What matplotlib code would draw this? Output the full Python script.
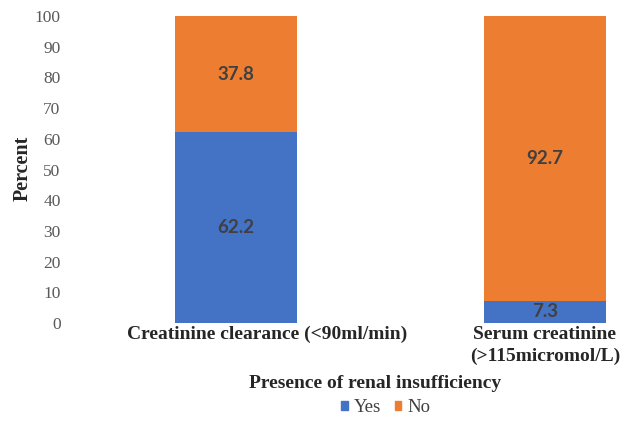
import matplotlib
matplotlib.use("Agg")
import matplotlib.pyplot as plt
from matplotlib.patches import Patch

categories = ["Creatinine clearance (<90ml/min)", "Serum creatinine\n(>115micromol/L)"]
yes_values = [62.2, 7.3]
no_values = [37.8, 92.7]
yticks = [0, 10, 20, 30, 40, 50, 60, 70, 80, 90, 100]

BLUE = "#4472C4"
ORANGE = "#ED7D31"
LABEL = "#404040"
TEXT = "#262626"

fig = plt.figure(figsize=(6.25, 4.25), dpi=100)
W, H = 625, 425
ax = fig.add_axes([80 / W, (H - 323) / H, 540 / W, (323 - 16) / H])

x = [0, 1]
width = 0.395
ax.bar(x, yes_values, width, color=BLUE, zorder=2)
ax.bar(x, no_values, width, bottom=yes_values, color=ORANGE, zorder=2)

for xi, y, n in zip(x, yes_values, no_values):
    ax.text(xi, y / 2, f"{y:.1f}", ha="center", va="center",
            fontsize=13.5, fontweight="bold", color=LABEL, family="Lato")
    ax.text(xi, y + n / 2, f"{n:.1f}", ha="center", va="center",
            fontsize=13.5, fontweight="bold", color=LABEL, family="Lato")

ax.set_xlim(-0.505, 1.243)
ax.set_ylim(0, 100)
ax.set_yticks(yticks)
ax.set_yticklabels([str(t) for t in yticks], family="Liberation Serif",
                   fontsize=12.5, color="#595959")
ax.set_xticks([])
ax.tick_params(axis="both", length=0)
ax.tick_params(axis="y", pad=14)
for s in ax.spines.values():
    s.set_visible(False)

# category labels under the bars (the first one sits a little right of its bar)
label_dx = [31, 0]
for xi, cat, dx in zip(x, categories, label_dx):
    ax.annotate(cat, xy=(xi, 0), xycoords=("data", "axes fraction"),
                xytext=(dx, -3), textcoords="offset pixels",
                ha="center", va="top", family="Liberation Serif", fontsize=14,
                fontweight="bold", color=TEXT, linespacing=1.35)

fig.text(23 / W, 1 - 168 / H, "Percent", rotation=90, ha="center", va="center",
         family="Liberation Serif", fontsize=14.5, fontweight="bold", color=TEXT)
fig.text(375 / W, 1 - 384 / H, "Presence of renal insufficiency", ha="center",
         va="center", family="Liberation Serif", fontsize=14, fontweight="bold",
         color=TEXT)

handles = [Patch(color=BLUE, label="Yes"), Patch(color=ORANGE, label="No")]
fig.legend(handles=handles, loc="center", bbox_to_anchor=(386 / W, 1 - 408 / H),
           ncol=2, frameon=False, handlelength=0.34, handleheight=0.34,
           handletextpad=0.35, columnspacing=0.7, labelcolor="#404040",
           prop={"family": "Liberation Serif", "size": 13.5})

fig.savefig("out.png", dpi=100)
